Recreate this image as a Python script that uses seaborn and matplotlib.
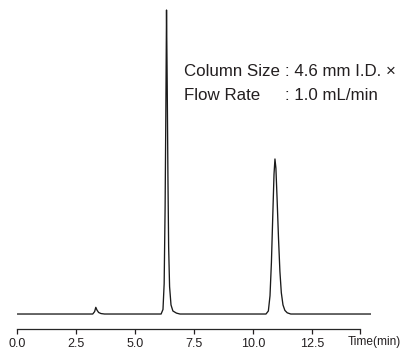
import numpy as np
import pandas as pd
import matplotlib
matplotlib.use("Agg")
import matplotlib.pyplot as plt
import seaborn as sns

# Chromatogram (time in min, relative response)
time_min = [0.00, 1.50, 3.00, 3.20, 3.28, 3.33, 3.38, 3.45, 3.55, 3.70, 5.00,
            6.10, 6.18, 6.23, 6.27, 6.30, 6.33, 6.36, 6.39, 6.42, 6.46, 6.52,
            6.60, 6.75, 6.90, 8.50,
            10.55, 10.65, 10.72, 10.78, 10.84, 10.89, 10.93, 10.97, 11.02,
            11.08, 11.14, 11.20, 11.27, 11.35, 11.45, 11.60, 13.00, 15.00]
response = [0.0, 0.0, 0.0, 0.0, 0.8, 2.2, 1.3, 0.5, 0.15, 0.0, 0.0,
            0.0, 1.5, 10.0, 35.0, 65.0, 100.0, 75.0, 45.0, 22.0, 9.0, 3.0,
            1.0, 0.3, 0.0, 0.0,
            0.0, 1.0, 6.0, 17.0, 33.0, 46.0, 51.0, 48.0, 38.0,
            25.0, 14.0, 7.0, 3.0, 1.2, 0.4, 0.0, 0.0, 0.0]

tick_values = [0.0, 2.5, 5.0, 7.5, 10.0, 12.5]
tick_labels = ["0.0", "2.5", "5.0", "7.5", "10.0", "12.5"]
axis_end = 14.55

conditions = ["Column Size ", "Flow Rate"]
condition_values = [": 4.6 mm I.D. \u00d7", ": 1.0 mL/min"]

sns.set_style("ticks")
plt.rcParams["font.family"] = ["Liberation Sans", "DejaVu Sans"]

df = pd.DataFrame({"Time": time_min, "Response": response})

fig = plt.figure(figsize=(4.02, 3.49), dpi=100)
ax = fig.add_axes([17.3 / 402, 20 / 349, 353.6 / 402, 329 / 349])

sns.lineplot(data=df, x="Time", y="Response", ax=ax, color="#1a1a1a", linewidth=0.95)

ax.set_xlim(0, 15.0)
ax.set_ylim(-4.93, 103.3)
ax.set_yticks([])
ax.set_xlabel("")
ax.set_ylabel("")
for side in ["left", "right", "top"]:
    ax.spines[side].set_visible(False)
ax.spines["bottom"].set_bounds(0, axis_end)
ax.spines["bottom"].set_linewidth(0.9)
ax.set_xticks(tick_values + [axis_end])
ax.set_xticklabels(tick_labels + [""])
ax.tick_params(axis="x", direction="out", length=3.3, width=0.9, pad=3.0,
               labelsize=9, colors="#231f20")

fig.text(401 / 402, 1 - 341.5 / 349, "Time(min)", ha="right", va="center",
         fontsize=8.6, color="#231f20")

# condition box: names on the left, colons lined up
renderer = fig.canvas.get_renderer()
x0 = 184
name_txt = fig.text(x0 / 402, 1 - 72 / 349, conditions[0], ha="left", va="center",
                    fontsize=12.2, color="#231f20")
colon_x = name_txt.get_window_extent(renderer).x1
fig.text(colon_x / 402, 1 - 72 / 349, condition_values[0], ha="left", va="center",
         fontsize=12.2, color="#231f20")
fig.text(x0 / 402, 1 - 96 / 349, conditions[1], ha="left", va="center",
         fontsize=12.2, color="#231f20")
fig.text(colon_x / 402, 1 - 96 / 349, condition_values[1], ha="left", va="center",
         fontsize=12.2, color="#231f20")

fig.savefig("out.png", dpi=100)
